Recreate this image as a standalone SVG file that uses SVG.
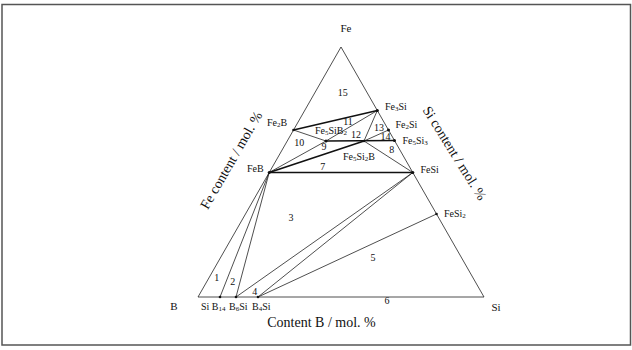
<svg xmlns="http://www.w3.org/2000/svg" width="632" height="350" viewBox="0 0 632 350">
<style>
text{font-family:"Liberation Serif","Times New Roman",serif;fill:#111;}
.lb{font-size:10px;}
.nm{font-size:10px;text-anchor:middle;}
.ax{font-size:14px;text-anchor:middle;}
.sub{font-size:7px;}
.thin{stroke:#222;stroke-width:0.8;fill:none;}
.thick{stroke:#111;stroke-width:1.6;fill:none;}
.dot{fill:#111;}
</style>
<rect x="2" y="4.5" width="628.5" height="340.5" fill="#fff" stroke="#555" stroke-width="1.5"/>
<g id="connectors">
<polygon class="thin" points="341,47 198,297 484,297"/>
<line class="thick" x1="293.5" y1="130" x2="377.3" y2="110.5"/>
<line class="thin" x1="293.5" y1="130" x2="326" y2="141"/>
<line class="thin" x1="326" y1="141" x2="377.3" y2="110.5"/>
<line class="thick" x1="326" y1="141" x2="394.5" y2="140.5"/>
<line class="thin" x1="364" y1="141" x2="377.3" y2="110.5"/>
<line class="thin" x1="364" y1="141" x2="388.5" y2="130"/>
<line class="thin" x1="364" y1="141" x2="412.8" y2="172.5"/>
<line class="thin" x1="269.2" y1="172.5" x2="326" y2="141"/>
<line class="thick" x1="269.2" y1="172.5" x2="364" y2="141"/>
<line class="thick" x1="269.2" y1="172.5" x2="412.8" y2="172.5"/>
<line class="thin" x1="269.2" y1="172.5" x2="220" y2="297"/>
<line class="thin" x1="269.2" y1="172.5" x2="236" y2="297"/>
<line class="thin" x1="412.8" y1="172.5" x2="236" y2="297"/>
<line class="thin" x1="412.8" y1="172.5" x2="258" y2="297"/>
<line class="thin" x1="436.5" y1="214" x2="258" y2="297"/>
</g>
<g id="Fe"><text class="nm" x="346" y="32" style="font-size:11px">Fe</text></g>
<g id="B"><text class="nm" x="174" y="310" style="font-size:11px">B</text></g>
<g id="Si"><text class="nm" x="496" y="311" style="font-size:11px">Si</text></g>
<g id="Fe3Si"><circle class="dot" cx="377.3" cy="110.5" r="1.5"/><text class="lb" x="385" y="109.5">Fe<tspan class="sub" dy="1">3</tspan><tspan dy="-1">Si</tspan></text></g>
<g id="Fe2B"><circle class="dot" cx="293.5" cy="130" r="1.3"/><text class="lb" x="267" y="125.5">Fe<tspan class="sub" dy="1">2</tspan><tspan dy="-1">B</tspan></text></g>
<g id="Fe2Si"><circle class="dot" cx="388.5" cy="130" r="1.5"/><text class="lb" x="395.5" y="127.5">Fe<tspan class="sub" dy="1">2</tspan><tspan dy="-1">Si</tspan></text></g>
<g id="Fe5Si3"><circle class="dot" cx="394.5" cy="140.5" r="1.5"/><text class="lb" x="402.5" y="143.5">Fe<tspan class="sub" dy="1">5</tspan><tspan dy="-1">Si</tspan><tspan class="sub" dy="1">3</tspan></text></g>
<g id="Fe5SiB2"><circle class="dot" cx="326" cy="141" r="1.5"/><text class="lb" x="315" y="133.5">Fe<tspan class="sub" dy="1">5</tspan><tspan dy="-1">SiB</tspan><tspan class="sub" dy="1">2</tspan></text></g>
<g id="Fe5Si2B"><circle class="dot" cx="364" cy="141" r="1.3"/><text class="lb" x="343" y="159.5">Fe<tspan class="sub" dy="1">5</tspan><tspan dy="-1">Si</tspan><tspan class="sub" dy="1">2</tspan><tspan dy="-1">B</tspan></text></g>
<g id="FeB"><circle class="dot" cx="269.2" cy="172.5" r="1.5"/><text class="lb" x="247" y="171.5">FeB</text></g>
<g id="FeSi"><circle class="dot" cx="412.8" cy="172.5" r="1.5"/><text class="lb" x="420.5" y="172.5">FeSi</text></g>
<g id="FeSi2"><circle class="dot" cx="436.5" cy="214" r="1.3"/><text class="lb" x="444" y="216.5">FeSi<tspan class="sub" dy="1">2</tspan></text></g>
<g id="SiB14"><circle class="dot" cx="220" cy="297" r="1.3"/><text class="lb" x="201" y="310">Si B<tspan class="sub" dy="1">14</tspan></text></g>
<g id="B6Si"><circle class="dot" cx="236" cy="297" r="1.3"/><text class="lb" x="229" y="310">B<tspan class="sub" dy="1">6</tspan><tspan dy="-1">Si</tspan></text></g>
<g id="B4Si"><circle class="dot" cx="258" cy="297" r="1.3"/><text class="lb" x="252" y="310">B<tspan class="sub" dy="1">4</tspan><tspan dy="-1">Si</tspan></text></g>
<g id="regions">
<text class="nm" x="342.7" y="96">15</text>
<text class="nm" x="348" y="125">11</text>
<text class="nm" x="299.3" y="146">10</text>
<text class="nm" x="324" y="150">9</text>
<text class="nm" x="356" y="137.5">12</text>
<text class="nm" x="379" y="131">13</text>
<text class="nm" x="385.5" y="140">14</text>
<text class="nm" x="391.7" y="152.5">8</text>
<text class="nm" x="322.7" y="169.5">7</text>
<text class="nm" x="291" y="221">3</text>
<text class="nm" x="373" y="260.5">5</text>
<text class="nm" x="387" y="303.5">6</text>
<text class="nm" x="216.7" y="280.5">1</text>
<text class="nm" x="232.7" y="285">2</text>
<text class="nm" x="254.7" y="294.5">4</text>
</g>
<g id="axes">
<text class="ax" transform="translate(231,160) rotate(-60)" x="0" y="5">Fe content / mol. %</text>
<text class="ax" transform="translate(455,153) rotate(58)" x="0" y="5">Si content / mol. %</text>
<text class="ax" x="321.5" y="327">Content B / mol. %</text>
</g>
</svg>
